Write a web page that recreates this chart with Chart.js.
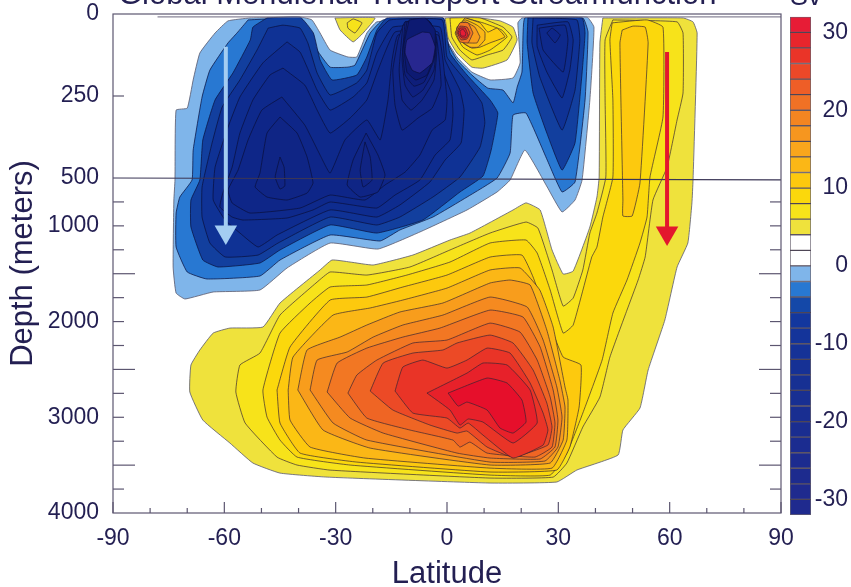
<!DOCTYPE html>
<html>
<head>
<meta charset="utf-8">
<title>Global Meridional Transport Streamfunction</title>
<script src="https://cdn.jsdelivr.net/npm/chart.js@4"></script>
<style>
body { margin: 0; background: #fff; overflow: hidden; }
canvas { position: absolute; top: 0; }
#main { left: 0; }
#bar { left: 780px; }
</style>
</head>
<body>
<canvas id="main" width="851" height="587"></canvas>
<canvas id="bar" width="71" height="587"></canvas>
<script>
// all contours are [latitude, depth in meters]
const blue2 = [[-53.1,12],[-59,21],[-62.5,58],[-66.6,119],[-68.4,201],[-70,287],[-73,293],[-73.3,521],[-73.6,730],[-73.8,1430],[-73,1702],[-70.6,1764],[-63,1691],[-50.4,1670],[-43.1,1440],[-31.5,1180],[-18.6,1242],[-7.3,1064],[5.4,834],[13.5,646],[17,521],[21,415],[27,594],[31,855],[34.5,730],[36.4,521],[38.5,262],[39.6,40],[37.7,9],[20.2,12],[19.1,27],[19.7,149],[17.8,195],[11.6,201],[6.7,177],[2.7,131],[-0.5,70],[-1.3,12],[-18.9,24],[-21.6,58],[-24.3,131],[-26.7,131],[-31.5,110],[-34.2,58],[-36.4,18],[-39.6,9]];
const blue4 = [[-53.6,18],[-56.6,58],[-59,88],[-63.9,171],[-66,253],[-68.4,415],[-68.7,521],[-72,699],[-73,866],[-73,1221],[-70,1482],[-64.7,1555],[-50.4,1524],[-45,1357],[-31.5,1096],[-18,1158],[-12.7,1043],[-3.8,908],[5.4,699],[13.5,500],[17,424],[17.8,308],[21.3,302],[27,445],[31,646],[34.5,542],[37.2,262],[38,55],[36.6,12],[21,12],[20.5,58],[20.2,177],[18.9,223],[17.8,271],[15.1,232],[11,226],[6.7,186],[2.7,140],[-0.5,73],[-1,12],[-17.2,18],[-20.7,58],[-24.8,156],[-26.7,162],[-31.5,162],[-35,110],[-37.5,40],[-39.6,12]];
const blue6 = [[-48.5,12],[-52.3,40],[-53,79],[-57.7,180],[-62.5,262],[-65.8,384],[-66.6,521],[-69,730],[-69,1012],[-65.8,1357],[-61.7,1430],[-50.4,1388],[-45,1252],[-31.5,991],[-18.9,1075],[-6.5,939],[3.5,646],[9.7,494],[11.9,415],[13.7,302],[11.6,262],[5.4,186],[0.8,119],[-1,12],[-16.2,12],[-18.9,49],[-21.6,131],[-24.3,186],[-31,201],[-34.2,140],[-36,58],[-39.6,9]];
const blue6b = [[21.8,12],[21.6,88],[23.2,241],[26.9,363],[31,476],[34.5,393],[36.4,180],[37.2,58],[36.4,12]];
const blue8 = [[-48.2,43],[-44.2,34],[-39.6,43],[-37.5,88],[-35,180],[-31.5,247],[-24.3,210],[-21.6,171],[-18.9,58],[-15.4,18],[-1.3,18],[0,131],[4.9,201],[9.4,271],[10.2,332],[8.9,406],[3.5,497],[-3.8,699],[-12.7,908],[-18.9,991],[-31.5,908],[-45.5,1179],[-50.9,1305],[-59.8,1325],[-63.9,1179],[-66,908],[-66,594],[-63.3,393],[-60.6,284],[-55.8,201],[-51.2,110]];
const blue8b = [[23.2,12],[22.9,88],[25,192],[31,354],[34.5,232],[35.8,79],[35,18]];
const blue10 = [[-43.1,85],[-49.6,149],[-55.8,253],[-59,345],[-62.5,467],[-63,730],[-59.8,939],[-55.8,1075],[-50.9,1221],[-45.8,1096],[-31.5,834],[-18.9,908],[-12.7,782],[-4.6,542],[-0.5,445],[3.8,393],[4.6,293],[3.5,232],[-0.5,140],[-1.9,40],[-14.6,40],[-18.9,119],[-21.6,210],[-25.3,253],[-31.5,293],[-35,232],[-37.7,162],[-39.6,116]];
const blue10b = [[24.3,34],[24.3,100],[26.9,177],[31,256],[33.1,171],[34,79],[32.6,24]];
const blue12 = [[-44.2,165],[-47.7,186],[-52.3,262],[-55.8,363],[-57.9,467],[-60.4,657],[-61.2,803],[-57.9,908],[-55,939],[-43.1,918],[-36.1,834],[-31.5,751],[-18.9,814],[-14,678],[-7.3,521],[-3.2,430],[0.8,384],[1.6,308],[1.3,247],[-1.6,156],[-2.4,55],[-14,55],[-18.6,171],[-21.6,262],[-26.1,317],[-31.5,363],[-35,293],[-38.3,217]];
const blue12b = [[24.8,43],[25.9,110],[31.3,177],[32.6,79],[31.8,34]];
const blue14 = [[-44.5,253],[-38.3,339],[-34.2,430],[-31.5,485],[-27.5,384],[-21.6,323],[-18,384],[-15.9,262],[-14.8,140],[-13.2,64],[-2.4,64],[-1.1,140],[0,262],[-0.5,323],[-4,354],[-7.3,430],[-11.3,482],[-16.7,573],[-22.1,730],[-31.5,678],[-39.6,814],[-53.1,866],[-57.9,761],[-59,625],[-56.3,476],[-53.6,384],[-49.9,293]];
const blue14b = [[26.9,58],[29.1,88],[30.5,64],[28.3,43]];
const blue16 = [[-45,314],[-48.5,363],[-50.4,485],[-51.7,594],[-48.5,699],[-43.1,730],[-37.7,657],[-36.1,552],[-37.7,436],[-40.4,363]];
const blue16b = [[-21.8,363],[-25.3,445],[-26.9,573],[-23.4,699],[-18.6,646],[-16.7,491],[-18.6,430]];
const blue16c = [[-13.2,79],[-14.6,171],[-14,278],[-12.1,354],[-7.8,317],[-4,287],[-1.6,217],[-2.7,79],[-4.6,24],[-11.3,24]];
const blue18 = [[-45,436],[-46.3,497],[-45,615],[-43.7,584],[-43.9,467]];
const blue18b = [[-22.1,390],[-23.4,476],[-22.6,594],[-20.2,521],[-20.7,436]];
const blue18c = [[-11.9,34],[-12.9,171],[-12.1,262],[-9.7,293],[-6.7,262],[-3.5,201],[-2.7,95],[-4.6,24]];
const blue20 = [[-11.3,24],[-12.1,140],[-11.3,217],[-9.2,253],[-6.5,232],[-3.5,171],[-3,79],[-5.1,18]];
const blue22 = [[-10.8,24],[-11.9,110],[-11.3,186],[-8.9,220],[-6.2,208],[-3.5,140],[-3,64],[-5.7,18]];
const blue24 = [[-10.2,18],[-11.6,95],[-10.8,177],[-8.4,201],[-5.4,186],[-3.5,125],[-3.2,49],[-5.9,12]];
const blue28 = [[-6.7,55],[-10.8,79],[-11.3,119],[-9.4,171],[-7.3,180],[-4,149],[-3.2,100],[-4.6,58]];

const warm2 = [[42,12],[41.2,88],[41,497],[40.4,699],[38.5,1012],[34,1472],[31.3,1503],[28.3,1252],[25.1,834],[21.3,760],[17.8,834],[6.2,1075],[0.8,1148],[-9.2,1305],[-19.9,1409],[-26.1,1378],[-31,1357],[-34.2,1461],[-45,1806],[-49.6,2057],[-58.5,2068],[-63,2120],[-66.6,2297],[-69,2454],[-69.3,2736],[-65.8,3029],[-58.5,3269],[-52.3,3478],[-45,3583],[-32.3,3625],[11.6,3687],[29.6,3676],[35,3551],[46.1,3394],[47.4,3133],[52,2903],[54.2,2506],[58.7,1984],[62,1430],[64.9,1179],[66,760],[66.3,521],[67.4,58],[66.3,24],[63.6,12]];
const warm4 = [[44.7,18],[42.6,79],[42.6,262],[42.8,497],[40.4,866],[38.5,1075],[36.6,1461],[34,1754],[31.3,1838],[28.3,1461],[24.5,1023],[21.3,960],[11.6,1075],[0.8,1252],[-10,1430],[-21.6,1514],[-31.5,1482],[-35,1587],[-45,1932],[-50.4,2329],[-55.8,2454],[-56.9,2736],[-54.4,3060],[-45.8,3416],[-40.4,3499],[-31.5,3552],[11.6,3635],[28.6,3625],[32.3,3478],[36.6,3102],[41.2,2789],[43.9,2371],[48.5,1880],[51.5,1566],[53.4,1325],[55.5,730],[59.3,467],[62,323],[63.6,241],[63.6,58],[62,24]];
const warm6 = [[44.5,27],[43.9,79],[44.7,262],[44.7,497],[42,908],[40.4,1221],[39,1326],[34,2036],[31.3,2120],[27.8,1670],[24.3,1284],[21.3,1148],[11.6,1179],[0.8,1378],[-10.8,1514],[-21.6,1618],[-31.5,1639],[-36.9,1806],[-45,2120],[-49.6,2715],[-48.5,2998],[-45,3238],[-40.4,3416],[-26.1,3499],[11.6,3604],[27.8,3604],[32.3,3374],[36.6,2956],[41.8,2402],[44.7,1911],[48.5,1566],[52,1179],[53.9,908],[54.7,497],[58.2,314],[58.2,40],[53.9,18]];
const warm8 = [[-45.8,2715],[-42.3,2266],[-31.5,1775],[-21.6,1744],[-11.9,1639],[0,1514],[11.6,1326],[20.2,1305],[23.2,1535],[28.6,2120],[31.3,2371],[36.1,2454],[35.6,2893],[33.1,3311],[29.6,3551],[11.6,3572],[-24.3,3468],[-39.6,3374],[-45,3060]];
const warm8b = [[47.2,49],[46.6,88],[47.4,730],[47.4,897],[49.9,897],[52,552],[54.2,88],[53.4,40],[50.1,37]];
const warm10 = [[-42.8,2715],[-41.5,2371],[-30.7,1932],[-20.7,1858],[-11.9,1775],[0,1650],[11.6,1461],[19.7,1440],[25,1670],[28.6,2057],[31.8,2684],[32.6,2820],[32.3,3238],[28.3,3531],[11.6,3531],[-22.1,3426],[-36.9,3311],[-42.3,3029]];
const warm12 = [[-40.2,2715],[-37.7,2297],[-28.8,2162],[-21.6,2036],[-12.7,1900],[-1.1,1806],[11.6,1597],[17,1566],[22.4,1618],[26.9,2089],[30.4,2611],[31.8,2893],[31.3,3238],[27.8,3478],[11.6,3499],[-20.7,3322],[-33.4,3133]];
const warm14 = [[-36.9,2715],[-35,2402],[-26.9,2318],[-19.9,2162],[-11.9,2036],[-1.1,1932],[11.6,1744],[21.6,1848],[25.9,2193],[29.6,2684],[31,2998],[29.9,3311],[26.4,3457],[11.6,3468],[-21.6,3238],[-30.7,3060]];
const warm16 = [[-32.3,2736],[-29.6,2433],[-21.6,2277],[-11.9,2162],[-1.9,2068],[11.6,1880],[20.5,1953],[25.1,2266],[28.6,2715],[29.9,3029],[29.1,3311],[25.1,3436],[11.6,3426],[2.7,3374],[-17.2,3165],[-26.1,3008]];
const warm18 = [[-26.7,2747],[-24.3,2559],[-18.9,2402],[-9.2,2224],[0,2193],[11.6,2016],[19.7,2110],[24.3,2402],[27.8,2789],[29.1,3060],[28.3,3311],[23.7,3416],[10.8,3374],[6.2,3259],[3.5,3311],[1.6,3238],[-10,3133],[-21.6,3008]];
const warm20 = [[-20.7,2726],[-17.2,2433],[-9.2,2329],[-1.1,2297],[2.7,2224],[11.6,2141],[17.8,2224],[23.2,2506],[26.9,2851],[28.3,3102],[27.2,3290],[17.8,3416],[10.8,3311],[5.4,3144],[2.7,3165],[-4.6,3081],[-14.6,2924]];
const warm22 = [[-14,2726],[-11.9,2475],[-6.5,2402],[0,2486],[5.4,2402],[10.8,2277],[17,2329],[22.4,2642],[25.9,2956],[27.2,3133],[25.9,3290],[17.8,3426],[9.7,3186],[5.7,3060],[3.5,3113],[0,3008],[-9.2,2956]];
const warm24 = [[-5.4,2747],[5.4,2538],[9.7,2433],[16.2,2454],[22.4,2715],[24.3,3060],[17.8,3269],[9.7,3050],[5.7,3018],[3.5,3081],[0.8,2924]];
const warm26 = [[0.3,2747],[10.8,2590],[16.2,2642],[20.2,2820],[21.3,3050],[17.8,3165],[14.3,3113],[10.8,2924],[5.4,2841],[3,2883]];

// little warm cell near the surface, just north of the equator
const cell2 = [[-0.5,12],[0.3,73],[2.7,119],[6.7,162],[9.7,165],[16.2,140],[18.9,79],[17.8,40],[14.3,21],[6.7,9]];
const cell4 = [[0.8,12],[1.3,70],[3.5,110],[6.7,140],[10.8,125],[15.1,110],[17.5,70],[15.1,40],[8.9,12]];
const cell6 = [[4.9,12],[2.2,58],[4.3,101],[8.1,125],[11.6,110],[16.2,70],[14.8,49],[9.7,27]];
const cell8 = [[4.9,12],[2.7,43],[4.3,88],[6.7,104],[8.9,101],[11.6,88],[15.6,70],[13.5,43],[11,55],[8.9,27]];
const cell10 = [[10.2,79],[10.2,55],[8.1,34],[4.9,18],[2.7,40],[3.5,79],[6.2,101],[8.4,101]];
const cell12 = [[8.9,70],[7.5,40],[4.9,24],[2.7,43],[3.5,79],[5.7,88],[8.1,88]];
const cell16 = [[7,58],[5.7,27],[3.5,27],[2.4,55],[3.5,85],[5.7,88]];
const cell20 = [[6.2,58],[5.4,40],[3.5,37],[2.7,55],[3.8,79],[5.4,76]];
const cell24 = [[5.7,64],[4.9,43],[3.5,43],[3,58],[4,73],[5.1,73]];
const cell28 = [[5.1,58],[4.3,46],[3.5,52],[3.8,67],[4.9,67]];

// patch of weak positive transport at 25S
const patch2 = [[-30.2,12],[-28.8,49],[-25.3,85],[-22.6,58],[-19.4,12]];
const patch4 = [[-26.9,27],[-26.7,43],[-24.8,58],[-22.9,27],[-25.3,15]];

const line500 = [[-90,500],[90,520]];
const lineTop = [[-78,9],[90,9]];
const arrowDown = [[-59.6,100],[-59.6,1064]];
const arrowUp = [[59.3,116],[59.3,1075]];

const latTicks = [-90, -60, -30, 0, 30, 60, 90];
const latMinor = [-80, -70, -50, -40, -20, -10, 10, 20, 40, 50, 70, 80];
const depthTicks = [0, 250, 500, 1000, 2000, 3000, 4000];
const depthShort = [250, 750, 1000, 1250, 1750, 2000, 2250, 2750, 3000, 3250, 3750];
const depthLong = [1500, 2500, 3500];

const barEdges = [-32,-30,-28,-26,-24,-22,-20,-18,-16,-14,-12,-10,-8,-6,-4,-2,0,2,4,6,8,10,12,14,16,18,20,22,24,26,28,30,32];
const barColors = ['#1f2a8e','#1f2a8e','#1d2b8e','#1c2b8f','#1b2c90','#1a2d90','#192e91','#182f92','#173093','#163195','#153297','#14349a','#13379e','#1448a8','#2878d2','#7fb5ea','#ffffff','#ffffff','#efe23c','#f7e31a','#fbd80c','#fdc90e','#fbb716','#f9a61c','#f6961f','#f38521','#f07125','#ee5e27','#ec4828','#ea3428','#e8252c','#e71c36'];

const levelColors = {
    '-2': '#7fb5ea', '-4': '#2878d2', '-6': '#123f9e', '-8': '#0f3295', '-10': '#0e2c8f',
    '-12': '#0e298b', '-14': '#0e2688', '-16': '#0f2585', '-18': '#102483', '-20': '#0f2180',
    '-22': '#0e1e7a', '-24': '#0d1a72', '-28': '#27278f',
    '2': '#efe23c', '4': '#f7e31a', '6': '#fbd80c', '8': '#fdc90e', '10': '#fbb716',
    '12': '#f89d1c', '14': '#f58a20', '16': '#f27723', '18': '#ef6524', '20': '#ec4a26',
    '22': '#e93427', '24': '#e7212a', '26': '#e60f2b', '28': '#e71c36'
};

const contours = [
    [-2, blue2], [-4, blue4], [-6, blue6], [-6, blue6b], [-8, blue8], [-8, blue8b],
    [-10, blue10], [-10, blue10b], [-12, blue12], [-12, blue12b], [-14, blue14], [-14, blue14b],
    [-16, blue16], [-16, blue16b], [-16, blue16c], [-18, blue18], [-18, blue18b], [-18, blue18c],
    [-20, blue20], [-22, blue22], [-24, blue24], [-28, blue28],
    [2, warm2], [4, warm4], [6, warm6], [8, warm8], [8, warm8b], [10, warm10], [12, warm12],
    [14, warm14], [16, warm16], [18, warm18], [20, warm20], [22, warm22], [24, warm24], [26, warm26],
    [2, cell2], [4, cell4], [6, cell6], [8, cell8], [10, cell10], [12, cell12], [16, cell16],
    [20, cell20], [24, cell24], [28, cell28],
    [2, patch2], [4, patch4]
];

const inkColor = '#231f52';
const axisColor = '#5c5670';

function toPoints(list) {
    return list.map(p => ({x: p[0], y: p[1]}));
}

// depth axis: top 500 m is stretched, the rest is linear
class DepthScale extends Chart.LinearScale {
    buildTicks() {
        return depthTicks.map(v => ({value: v}));
    }
    depthDecimal(v) {
        const split = 164 / 499;
        if (v <= 500) return v / 500 * split;
        return split + (v - 500) / 3500 * (1 - split);
    }
    getPixelForValue(v) {
        return this.getPixelForDecimal(this.depthDecimal(v));
    }
}
DepthScale.id = 'depth';
DepthScale.defaults = Chart.LinearScale.defaults;
Chart.register(DepthScale);

// inward ticks, top/right frame and the clipped texts at the top
const framePlugin = {
    id: 'frame',
    afterDraw(chart) {
        const ctx = chart.ctx;
        const a = chart.chartArea;
        const xs = chart.scales.x;
        const ys = chart.scales.y;
        ctx.save();
        ctx.strokeStyle = axisColor;
        ctx.lineWidth = 1.2;
        ctx.strokeRect(a.left, a.top, a.right - a.left, a.bottom - a.top);
        function tick(x1, y1, x2, y2) {
            ctx.beginPath();
            ctx.moveTo(x1, y1);
            ctx.lineTo(x2, y2);
            ctx.stroke();
        }
        latTicks.forEach(v => tick(xs.getPixelForValue(v), a.bottom, xs.getPixelForValue(v), a.bottom - 11));
        latMinor.forEach(v => tick(xs.getPixelForValue(v), a.bottom, xs.getPixelForValue(v), a.bottom - 5));
        depthShort.forEach(v => {
            const y = ys.getPixelForValue(v);
            tick(a.left, y, a.left + 11, y);
            if (v > 500) tick(a.right, y, a.right - 11, y);
        });
        depthLong.forEach(v => {
            const y = ys.getPixelForValue(v);
            tick(a.left, y, a.left + 22, y);
            tick(a.right, y, a.right - 22, y);
        });
        ctx.fillStyle = inkColor;
        ctx.font = '31px "Liberation Sans"';
        ctx.fillText('Global Meridional Transport Streamfunction', 118, 4);
        ctx.font = '27px "Liberation Sans"';
        ctx.fillText('Sv', 790, 5);
        ctx.restore();
    }
};

const datasets = contours.map(c => ({
    data: toPoints(c[1].concat([c[1][0]])),
    showLine: true,
    fill: 'shape',
    backgroundColor: levelColors[c[0]],
    borderColor: c[0] === -2 || c[0] === 2 ? 'rgba(90,90,110,0.9)' : c[0] < 0 ? 'rgba(10,15,60,0.8)' : 'rgba(50,35,50,0.75)',
    borderWidth: 0.9,
    tension: 0.12,
    pointRadius: 0
}));
datasets.push({data: toPoints(lineTop), showLine: true, borderColor: '#8a8698', borderWidth: 1.2, pointRadius: 0, clip: false});
datasets.push({data: toPoints(line500), showLine: true, borderColor: '#3b3656', borderWidth: 1.2, pointRadius: 0});
datasets.push({
    data: toPoints(arrowDown), showLine: true, borderColor: '#a4cdf2', borderWidth: 4,
    pointRadius: [0, 13], pointStyle: 'triangle', pointRotation: 180,
    pointBackgroundColor: '#a4cdf2', pointBorderWidth: 0
});
datasets.push({
    data: toPoints(arrowUp), showLine: true, borderColor: '#e3172d', borderWidth: 4,
    pointRadius: [0, 13], pointStyle: 'triangle', pointRotation: 180,
    pointBackgroundColor: '#e3172d', pointBorderWidth: 0
});

new Chart(document.getElementById('main').getContext('2d'), {
    type: 'scatter',
    data: {datasets: datasets.reverse()},
    plugins: [framePlugin],
    options: {
        responsive: false,
        animation: false,
        layout: {padding: {top: 14, right: 70, left: 0, bottom: 0}},
        plugins: {legend: {display: false}, tooltip: {enabled: false}},
        scales: {
            x: {
                type: 'linear',
                min: -90,
                max: 90,
                afterBuildTicks: s => { s.ticks = latTicks.map(v => ({value: v})); },
                afterFit: s => { s.height = 74; s.paddingLeft = 0; s.paddingRight = 0; },
                grid: {display: false},
                border: {display: false},
                ticks: {color: inkColor, font: {size: 23, family: 'Liberation Sans'}, padding: 4, maxRotation: 0, autoSkip: false},
                title: {display: true, text: 'Latitude', color: inkColor, font: {size: 31, family: 'Liberation Sans'}, padding: {top: 0, bottom: -6}}
            },
            y: {
                type: 'depth',
                reverse: true,
                min: 0,
                max: 4000,
                afterFit: s => { s.width = 113; s.paddingTop = 0; s.paddingBottom = 0; },
                grid: {display: false},
                border: {display: false},
                ticks: {color: inkColor, font: {size: 23, family: 'Liberation Sans'}, padding: 6, autoSkip: false, callback: v => String(v)},
                title: {display: true, text: 'Depth (meters)', color: inkColor, font: {size: 31, family: 'Liberation Sans'}, padding: {top: 5, bottom: 0}}
            }
        }
    }
});

// colour bar on the right
new Chart(document.getElementById('bar').getContext('2d'), {
    type: 'bar',
    data: {
        labels: ['Sv'],
        datasets: barColors.map((c, i) => ({
            data: [[barEdges[i], barEdges[i + 1]]],
            backgroundColor: c,
            borderColor: 'rgba(40,30,50,0.7)',
            borderWidth: 1,
            borderSkipped: false,
            barPercentage: 1,
            categoryPercentage: 1,
            grouped: false
        }))
    },
    options: {
        responsive: false,
        animation: false,
        layout: {padding: {top: 13, left: 10, bottom: 72, right: 3}},
        plugins: {legend: {display: false}, tooltip: {enabled: false}},
        scales: {
            x: {display: false},
            y: {
                position: 'right',
                min: -32,
                max: 32,
                afterBuildTicks: s => { s.ticks = [-30, -20, -10, 0, 10, 20, 30].map(v => ({value: v})); },
                afterFit: s => { s.width = 37; },
                grid: {display: false},
                border: {display: false},
                ticks: {color: inkColor, font: {size: 23, family: 'Liberation Sans'}, padding: 3, crossAlign: 'far'}
            }
        }
    }
});
</script>
</body>
</html>
